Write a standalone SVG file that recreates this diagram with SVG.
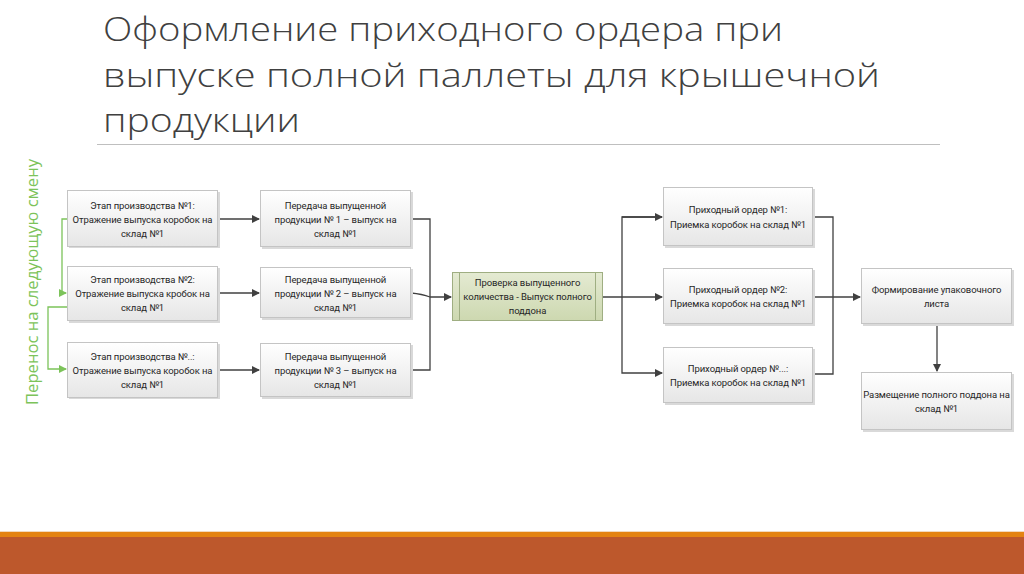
<svg xmlns="http://www.w3.org/2000/svg" width="1024" height="574" viewBox="0 0 1024 574">
<defs>
<linearGradient id="gbox" x1="0" y1="0" x2="0" y2="1">
<stop offset="0" stop-color="#ffffff"/>
<stop offset="1" stop-color="#e6e6e6"/>
</linearGradient>
<linearGradient id="ggreen" x1="0" y1="0" x2="0" y2="1">
<stop offset="0" stop-color="#e4ead2"/>
<stop offset="1" stop-color="#cdd8b0"/>
</linearGradient>
<marker id="ah" markerWidth="8" markerHeight="8" refX="7" refY="4" orient="auto" markerUnits="userSpaceOnUse">
<path d="M0,0 L8,4 L0,8 Z" fill="#404040"/>
</marker>
<marker id="ahg" markerWidth="8" markerHeight="8" refX="7" refY="4" orient="auto" markerUnits="userSpaceOnUse">
<path d="M0,0 L8,4 L0,8 Z" fill="#7cc35a"/>
</marker>
</defs>
<style>
.box{fill:url(#gbox);stroke:#c4c4c4;stroke-width:1}
.sh{fill:#d9d9d9}
.gbox{fill:url(#ggreen);stroke:#9fae82;stroke-width:1}
.t{font-family:Roboto,"Open Sans","Liberation Sans",sans-serif;font-size:9.5px;letter-spacing:-0.1px;fill:#262626;text-anchor:middle}
.c{fill:none;stroke:#404040;stroke-width:1.3}
.cg{fill:none;stroke:#7cc35a;stroke-width:1.3}
.title{font-family:"Open Sans","Liberation Sans",sans-serif;font-weight:300;font-size:33px;fill:#404040}
</style>
<rect width="1024" height="574" fill="#ffffff"/>
<g id="title">
<text class="title" x="103" y="41" textLength="680" lengthAdjust="spacingAndGlyphs">Оформление приходного ордера при</text>
<text class="title" x="103" y="87" textLength="777" lengthAdjust="spacingAndGlyphs">выпуске полной паллеты для крышечной</text>
<text class="title" x="103" y="132" textLength="197" lengthAdjust="spacingAndGlyphs">продукции</text>
<line x1="97" y1="144.5" x2="940" y2="144.5" stroke="#bfbfbf" stroke-width="1"/>
</g>
<g id="side-label">
<text x="38" y="282" transform="rotate(-90 38 282)" font-family="'Open Sans','Liberation Sans',sans-serif" font-size="16" fill="#7cc35a" text-anchor="middle" textLength="246" lengthAdjust="spacingAndGlyphs">Перенос на следующую смену</text>
</g>
<g id="connectors">
<path class="c" d="M218,219 H259" marker-end="url(#ah)"/>
<path class="c" d="M218,293 H259" marker-end="url(#ah)"/>
<path class="c" d="M218,370 H259" marker-end="url(#ah)"/>
<path class="c" d="M411,219 H430 V370 H411"/>
<path class="c" d="M411,293 Q422,294 430,297 H451" marker-end="url(#ah)"/>
<path class="c" d="M602,297 H662" marker-end="url(#ah)"/>
<path class="c" d="M662,217 H622 V373 H662" marker-end="url(#ah)"/>
<path class="c" d="M622,217 H662" marker-end="url(#ah)"/>
<path class="c" d="M812,217 H833 V374 H812"/>
<path class="c" d="M812,297 H860" marker-end="url(#ah)"/>
<path class="c" d="M937,324 V371" marker-end="url(#ah)"/>
<path class="cg" d="M67,219 H62 V293 H66" marker-end="url(#ahg)"/>
<path class="cg" d="M67,307 H48 V369 H66" marker-end="url(#ahg)"/>
</g>
<g id="n1">
<rect class="sh" x="69" y="192" width="151" height="56"/>
<rect class="box" x="67.5" y="190.5" width="150" height="56"/>
<text class="t" x="142.5" y="209">Этап производства №1:</text>
<text class="t" x="142.5" y="223">Отражение выпуска коробок на</text>
<text class="t" x="142.5" y="237">склад №1</text>
</g>
<g id="n2">
<rect class="sh" x="69" y="268" width="151" height="55"/>
<rect class="box" x="67.5" y="266.5" width="150" height="54"/>
<text class="t" x="142.5" y="283">Этап производства №2:</text>
<text class="t" x="142.5" y="297">Отражение выпуска кробок на</text>
<text class="t" x="142.5" y="311">склад №1</text>
</g>
<g id="n3">
<rect class="sh" x="69" y="344" width="151" height="55"/>
<rect class="box" x="67.5" y="342.5" width="150" height="55"/>
<text class="t" x="142.5" y="360">Этап производства №..:</text>
<text class="t" x="142.5" y="374">Отражение выпуска коробок на</text>
<text class="t" x="142.5" y="388">склад №1</text>
</g>
<g id="m1">
<rect class="sh" x="262" y="192" width="151" height="57"/>
<rect class="box" x="260.5" y="190.5" width="150" height="56"/>
<text class="t" x="335.5" y="209">Передача выпущенной</text>
<text class="t" x="335.5" y="223">продукции № 1 – выпуск на</text>
<text class="t" x="335.5" y="237">склад №1</text>
</g>
<g id="m2">
<rect class="sh" x="262" y="269" width="151" height="51"/>
<rect class="box" x="260.5" y="267.5" width="150" height="50"/>
<text class="t" x="335.5" y="283">Передача выпущенной</text>
<text class="t" x="335.5" y="297">продукции № 2 – выпуск на</text>
<text class="t" x="335.5" y="311">склад №1</text>
</g>
<g id="m3">
<rect class="sh" x="262" y="345" width="151" height="54"/>
<rect class="box" x="260.5" y="343.5" width="150" height="53"/>
<text class="t" x="335.5" y="360">Передача выпущенной</text>
<text class="t" x="335.5" y="374">продукции № 3 – выпуск на</text>
<text class="t" x="335.5" y="388">склад №1</text>
</g>
<g id="check">
<rect class="gbox" x="452.5" y="272.5" width="150" height="48"/>
<line x1="459.5" y1="272.5" x2="459.5" y2="320.5" stroke="#9fae82"/>
<line x1="595.5" y1="272.5" x2="595.5" y2="320.5" stroke="#9fae82"/>
<text class="t" x="527.5" y="286">Проверка выпущенного</text>
<text class="t" x="527.5" y="300">количества - Выпуск полного</text>
<text class="t" x="527.5" y="314">поддона</text>
</g>
<g id="o1">
<rect class="sh" x="665" y="189" width="150" height="59"/>
<rect class="box" x="663.5" y="187.5" width="149" height="58"/>
<text class="t" x="738" y="213">Приходный ордер №1:</text>
<text class="t" x="738" y="227.5">Приемка коробок на склад №1</text>
</g>
<g id="o2">
<rect class="sh" x="665" y="270" width="150" height="56"/>
<rect class="box" x="663.5" y="268.5" width="149" height="55"/>
<text class="t" x="738" y="292.5">Приходный ордер №2:</text>
<text class="t" x="738" y="307">Приемка коробок на склад №1</text>
</g>
<g id="o3">
<rect class="sh" x="665" y="349" width="150" height="56"/>
<rect class="box" x="663.5" y="347.5" width="149" height="55"/>
<text class="t" x="738" y="371.5">Приходный ордер №...:</text>
<text class="t" x="738" y="386">Приемка коробок на склад №1</text>
</g>
<g id="f1">
<rect class="sh" x="863" y="270" width="151" height="56"/>
<rect class="box" x="861.5" y="268.5" width="150" height="55"/>
<text class="t" x="936.5" y="292.5">Формирование упаковочного</text>
<text class="t" x="936.5" y="307">листа</text>
</g>
<g id="f2">
<rect class="sh" x="863" y="374" width="151" height="58"/>
<rect class="box" x="861.5" y="372.5" width="150" height="57"/>
<text class="t" x="936.5" y="397.5">Размещение полного поддона на</text>
<text class="t" x="936.5" y="412">склад №1</text>
</g>
<g id="footer">
<rect x="0" y="531" width="1024" height="1" fill="#f3d9bd"/>
<rect x="0" y="532" width="1024" height="5" fill="#e48312"/>
<rect x="0" y="537" width="1024" height="37" fill="#bd582c"/>
</g>
</svg>
